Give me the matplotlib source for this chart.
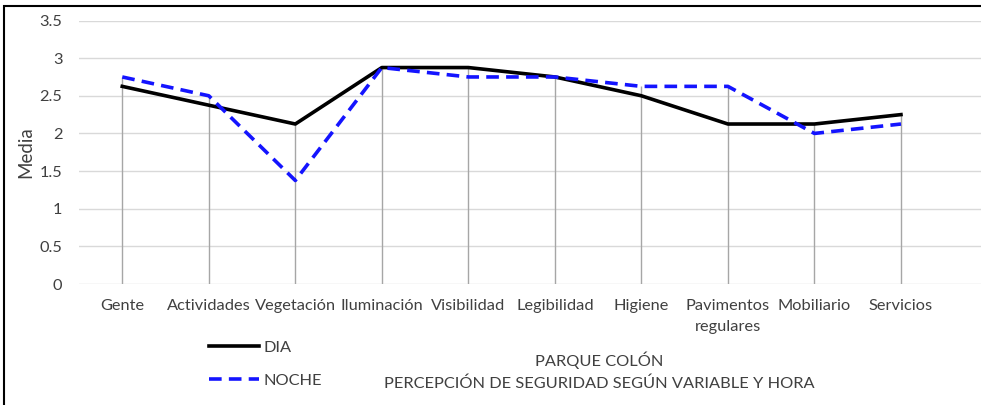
import matplotlib.pyplot as plt
from matplotlib.patches import Rectangle

'''
Parque Colón: percepción de seguridad según variable y hora (día / noche)
'''

categorias = ['Gente', 'Actividades', 'Vegetación', 'Iluminación', 'Visibilidad',
              'Legibilidad', 'Higiene', 'Pavimentos\nregulares', 'Mobiliario', 'Servicios']
dia = [2.625, 2.375, 2.125, 2.875, 2.875, 2.75, 2.5, 2.125, 2.125, 2.25]
noche = [2.75, 2.5, 1.375, 2.875, 2.75, 2.75, 2.625, 2.625, 2.0, 2.125]
yticks = [0, 0.5, 1, 1.5, 2, 2.5, 3, 3.5]
ytick_labels = ['0', '0.5', '1', '1.5', '2', '2.5', '3', '3.5']


if __name__ == "__main__":
    plt.rcParams['font.family'] = ['Lato', 'DejaVu Sans']
    fs = 11.8

    fig = plt.figure(figsize=(9.81, 4.05), dpi=100)
    ax = fig.add_axes([79 / 981, 1 - 284 / 405, 1 - 79 / 981, (284 - 20.5) / 405])

    x = list(range(len(categorias)))

    # gridlines and drop lines
    for t in yticks:
        ax.axhline(t, color='#d9d9d9', lw=1, zorder=0)
    ax.vlines(x, 0, [max(d, n) for d, n in zip(dia, noche)], color='#a6a6a6', lw=1, zorder=1)

    # the two series
    ax.plot(x, dia, color='black', lw=2.6, label='DIA', zorder=3)
    ax.plot(x, noche, color='#1414ff', lw=2.6, ls=(0, (3.5, 2)), label='NOCHE', zorder=4)

    ax.set_xlim(-0.5, (981 - 122) / 86.55)
    ax.set_ylim(0, 3.5)
    ax.set_xticks(x)
    ax.set_xticklabels(categorias, fontsize=fs, color='#404040', linespacing=1.6)
    ax.set_yticks(yticks)
    ax.set_yticklabels(ytick_labels, fontsize=fs, color='#404040')
    ax.tick_params(axis='both', length=0)
    ax.tick_params(axis='y', pad=12)
    ax.tick_params(axis='x', pad=11)
    for s in ax.spines.values():
        s.set_visible(False)

    ax.set_ylabel('Media', fontsize=13.5, color='#404040', labelpad=4)

    # legend at bottom left
    fig.legend(loc='center left', bbox_to_anchor=(194 / 981, 1 - 364 / 405),
               frameon=False, fontsize=fs, handlelength=3.05, handletextpad=0.3,
               labelspacing=1.15, labelcolor='#404040')

    # title under the chart
    fig.text(599 / 981, 1 - 360 / 405, 'PARQUE COLÓN', ha='center', va='center',
             fontsize=fs, color='#404040')
    fig.text(599 / 981, 1 - 384 / 405, 'PERCEPCIÓN DE SEGURIDAD SEGÚN VARIABLE Y HORA',
             ha='center', va='center', fontsize=fs, color='#404040')

    # frame around the chart
    fig.patches.append(Rectangle((3.5 / 981, -0.1), 1.1, 1 - 5.5 / 405 + 0.1,
                                 transform=fig.transFigure, fill=False,
                                 edgecolor='black', lw=1.5))

    fig.savefig('out.png', dpi=100)
